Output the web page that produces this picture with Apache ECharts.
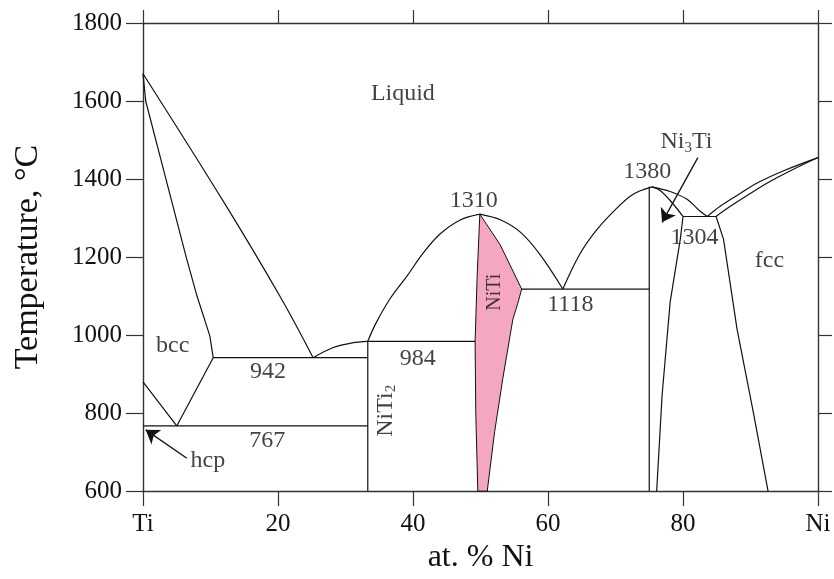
<!DOCTYPE html>
<html>
<head>
<meta charset="utf-8">
<script src="https://cdn.jsdelivr.net/npm/echarts@6/dist/echarts.min.js"></script>
<style>
  html, body { margin: 0; background: #fff; }
  #chart { width: 834px; height: 579px; }
</style>
</head>
<body>
<div id="chart"></div>
<script>
// axis ticks
const xTickNames = { 0: 'Ti', 100: 'Ni' }

// phase boundaries, [at.% Ni, °C]
const liquidusTi      = [[0, 1670], [12, 1340], [20.5, 1093], [25.2, 942]]
const solidusBcc      = [[0, 1670], [0.4, 1600], [3.4, 1400], [6.4, 1200], [8.0, 1100], [9.9, 998], [10.4, 942]]
const bccSolvus       = [[10.4, 942], [5.0, 767]]
const hcpTransus      = [[0, 880], [5.0, 767]]
const eutectoid767    = [[0, 767], [33.3, 767]]
const eutectic942     = [[10.4, 942], [33.3, 942]]
const liquidusNiTi2   = [[25.2, 942], [28.2, 968], [31, 980], [33.3, 984]]
const lineNiTi2       = [[33.3, 600], [33.3, 984]]
const peritectic984   = [[33.3, 984], [49.2, 984]]
const liquidusNiTiL   = [[33.3, 984], [34.5, 1030], [36.6, 1093], [39.1, 1151], [41.5, 1210], [44, 1259], [47, 1295], [49.9, 1310]]
const liquidusNiTiR   = [[49.9, 1310], [53, 1295], [55.9, 1264], [58.8, 1207], [62.2, 1118]]
const eutectic1118    = [[56.1, 1118], [75, 1118]]
const lineNi3Ti       = [[75, 600], [75, 1380]]
const liquidusNi3TiL  = [[62.2, 1118], [64.7, 1207], [67, 1265], [69.6, 1315], [72.5, 1360], [75.4, 1380]]
const liquidusNi3TiR  = [[75.4, 1380], [78.1, 1368], [80.6, 1348], [82.5, 1318], [83.6, 1304]]
const solidusNi3Ti    = [[75.4, 1380], [76.5, 1372], [78.1, 1345], [80.0, 1304]]
const eutectic1304    = [[80.0, 1304], [84.9, 1304]]
const solvusNi3Ti     = [[80.0, 1304], [79.6, 1246], [78.1, 1085], [76.9, 845], [76.1, 600]]
const liquidusFcc     = [[83.6, 1304], [85.5, 1330], [88, 1358], [91, 1390], [95, 1422], [100, 1455]]
const solidusFcc      = [[84.9, 1304], [87, 1330], [89.5, 1358], [92.5, 1390], [96, 1422], [100, 1455]]
const solvusFcc       = [[84.9, 1304], [86, 1246], [88, 1016], [90.4, 804], [92.6, 600]]

// NiTi single phase field (pink)
const fieldNiTi = [
  [49.9, 1310], [49.5, 1150], [49.2, 984], [49.3, 800], [49.6, 600],
  [51.0, 600], [52.1, 753], [53.3, 888], [54.8, 1041], [55.5, 1080], [56.1, 1118],
  [52.9, 1232]
]

// arrows [from, to]
const arrowHcp   = [[6.5, 684], [0.4, 757]]
const arrowNi3Ti = [[82.2, 1455], [76.9, 1289]]

// text labels: [text, at.% Ni, °C]
const plainLabels = [
  ['Liquid', 38.5, 1618],
  ['bcc', 4.4, 972],
  ['942', 18.5, 906],
  ['767', 18.4, 730],
  ['hcp', 9.6, 679],
  ['984', 40.7, 939],
  ['1310', 49.0, 1345],
  ['1118', 63.3, 1078],
  ['1380', 74.7, 1418],
  ['1304', 81.7, 1250],
  ['fcc', 92.8, 1190]
]
const subLabels = [
  ['NiTi', '3', 80.5, 1495, 0],
  ['NiTi', '2', 35.9, 806, 90]
]
const rotLabel = ['NiTi', 52.1, 1110]

const INK = '#111'
const FONT = '"Liberation Serif", "Times New Roman", serif'

function boundary(data, smooth) {
  return {
    type: 'line',
    data,
    smooth: smooth ? 0.35 : false,
    symbol: 'none',
    silent: true,
    lineStyle: { color: INK, width: 1.2 },
    z: 3,
  }
}

// curved boundaries are drawn smooth, the rest as polylines
const curves = [liquidusTi, liquidusNiTi2, liquidusNiTiL, liquidusNiTiR, liquidusNi3TiL,
  liquidusNi3TiR, solidusNi3Ti, liquidusFcc, solidusFcc]
const polylines = [solidusBcc, solvusNi3Ti, solvusFcc, bccSolvus, hcpTransus,
  eutectoid767, eutectic942, lineNiTi2, peritectic984, eutectic1118, lineNi3Ti, eutectic1304]

const labelData = plainLabels.map(([t, x, y]) => ({ value: [x, y], name: t }))
subLabels.forEach(([t, s, x, y, rot]) => {
  const parts = s === '3' ? '{n|Ni}{s|3}{n|Ti}' : '{n|NiTi}{s|2}'
  labelData.push({ value: [x, y], name: t, label: { formatter: parts, rotate: rot } })
})
labelData.push({
  value: [rotLabel[1], rotLabel[2]], name: rotLabel[0],
  label: { rotate: 90, fontSize: 20 },
})

const chart = echarts.init(document.getElementById('chart'), null, { renderer: 'canvas' })

const axisLine = { show: true, onZero: false, lineStyle: { color: '#333', width: 1.4 } }

chart.setOption({
  animation: false,
  backgroundColor: '#fff',
  grid: { left: 143, right: 16, top: 23, bottom: 86 },
  xAxis: [
    {
      type: 'value', min: 0, max: 100, interval: 20, position: 'bottom',
      axisLine,
      axisTick: { show: true, length: 15, lineStyle: { color: '#333', width: 1.2 } },
      axisLabel: {
        margin: 21, color: INK, fontSize: 25, fontFamily: FONT,
        formatter: v => xTickNames[v] || String(v),
      },
      splitLine: { show: false },
      name: 'at. % Ni', nameLocation: 'middle', nameGap: 50,
      nameTextStyle: { color: INK, fontSize: 32, fontFamily: FONT },
    },
    {
      type: 'value', min: 0, max: 100, interval: 20, position: 'top',
      axisLine,
      axisTick: { show: true, length: 13, lineStyle: { color: '#333', width: 1.2 } },
      axisLabel: { show: false },
      splitLine: { show: false },
    },
  ],
  yAxis: [
    {
      type: 'value', min: 600, max: 1800, interval: 200, position: 'left',
      axisLine,
      axisTick: { show: true, length: 17, lineStyle: { color: '#333', width: 1.2 } },
      axisLabel: { margin: 21, color: INK, fontSize: 25, fontFamily: FONT, formatter: v => String(v) },
      splitLine: { show: false },
      name: 'Temperature, °C', nameLocation: 'middle', nameGap: 98,
      nameTextStyle: { color: INK, fontSize: 34, fontFamily: FONT },
    },
    {
      type: 'value', min: 600, max: 1800, interval: 200, position: 'right',
      axisLine,
      axisTick: { show: true, length: 14, lineStyle: { color: '#333', width: 1.2 } },
      axisLabel: { show: false },
      splitLine: { show: false },
    },
  ],
  series: [
    {
      type: 'custom',
      silent: true,
      z: 2,
      data: [0],
      renderItem: (params, api) => ({
        type: 'polygon',
        shape: { points: fieldNiTi.map(p => api.coord(p)) },
        style: { fill: '#f5a6c1', stroke: INK, lineWidth: 1 },
      }),
    },
    ...curves.map(d => boundary(d, true)),
    ...polylines.map(d => boundary(d, false)),
    {
      type: 'lines',
      coordinateSystem: 'cartesian2d',
      silent: true,
      z: 4,
      symbol: ['none', 'arrow'],
      symbolSize: 13,
      lineStyle: { color: INK, width: 1.3, opacity: 1 },
      data: [{ coords: arrowHcp }, { coords: arrowNi3Ti }],
    },
    {
      type: 'scatter',
      symbolSize: 0,
      silent: true,
      z: 5,
      data: labelData,
      label: {
        show: true, position: 'inside', formatter: '{b}',
        color: INK, fontSize: 24, fontFamily: FONT,
        rich: {
          n: { color: INK, fontSize: 24, fontFamily: FONT },
          s: { color: INK, fontSize: 15, fontFamily: FONT, padding: [12, 0, 0, 0] },
        },
      },
    },
  ],
})
</script>
</body>
</html>
